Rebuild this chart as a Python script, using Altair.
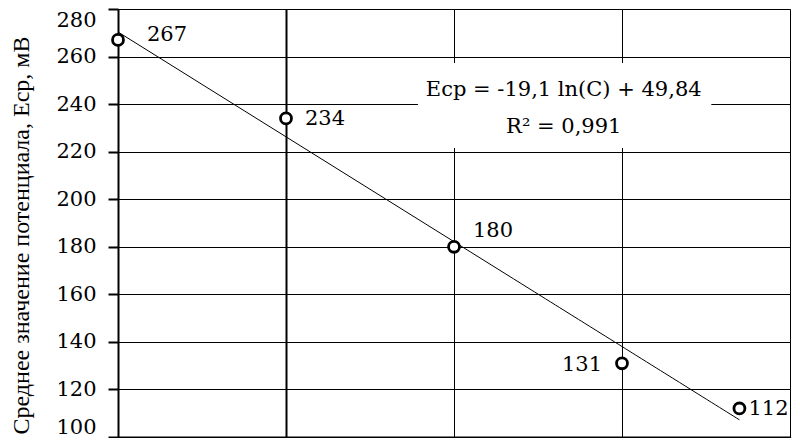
import altair as alt
import pandas as pd

# ---- data ----
conc = [1e-5, 1e-4, 1e-3, 1e-2, 5e-2]          # C (log axis)
potential = [267, 234, 180, 131, 112]           # Ecp, mV
point_labels = ["267", "234", "180", "131", "112"]

y_ticks = [100, 120, 140, 160, 180, 200, 220, 240, 260, 280]
x_ticks = [m * 10.0 ** e for e in range(-5, -1) for m in range(1, 10)] + [1e-1]

y_title = "Среднее значение потенциала, Еср, мВ"
eq_line1 = "Еср = -19,1 ln(C) + 49,84"
eq_line2 = "R² = 0,991"

# annotation anchor (data units)
eq_x = 4.5e-3
eq_y1 = 246.1
eq_y2 = 230.4
box_x = [6.1e-4, 3.4e-2]
box_y = [221.5, 257.3]

W, H = 672, 428
NUM_FONT = "DejaVu Serif"
TXT_FONT = "Liberation Serif"

df = pd.DataFrame({"C": conc, "E": potential, "label": point_labels})

xs = alt.Scale(type="log", domain=[1e-5, 1e-1], nice=False)
ys = alt.Scale(domain=[100, 280], nice=False, zero=False)

major = "abs(log(datum.value)/LN10 - round(log(datum.value)/LN10)) < 0.001"
thick = "abs(log(datum.value)/LN10 + 4) < 0.001"

x_axis = alt.Axis(
    values=x_ticks, labels=False, title=None,
    domainColor="black", domainWidth=2,
    tickColor="black",
    tickSize={"condition": {"test": major, "value": 10}, "value": 6},
    tickWidth=1.5,
    grid=True, gridColor="black",
    gridOpacity={"condition": {"test": major, "value": 1}, "value": 0},
    gridWidth={"condition": {"test": thick, "value": 2}, "value": 1},
)

y_axis = alt.Axis(
    values=y_ticks, title=y_title,
    titleFont=TXT_FONT, titleFontSize=24, titleFontWeight="normal", titleColor="black",
    titleX=-97, titleY=226, titleBaseline="middle", titleAlign="center",
    labelFont=NUM_FONT, labelFontSize=21, labelColor="black", labelPadding=12,
    labelBaseline={
        "condition": [
            {"test": "datum.value == 280", "value": "top"},
            {"test": "datum.value == 100", "value": "bottom"},
        ],
        "value": "middle",
    },
    tickSize=10, tickWidth=2, tickColor="black",
    domainColor="black", domainWidth=2,
    grid=True, gridColor="black", gridWidth=1, gridOpacity=1,
)

base = alt.Chart(df)

trend = base.transform_regression("C", "E", method="log").mark_line(
    color="black", strokeWidth=1
).encode(x=alt.X("C:Q", scale=xs, axis=x_axis), y=alt.Y("E:Q", scale=ys, axis=y_axis))

box = alt.Chart(pd.DataFrame({"x": [box_x[0]], "x2": [box_x[1]], "y": [box_y[0]], "y2": [box_y[1]]})).mark_rect(
    fill="white"
).encode(x=alt.X("x:Q", scale=xs), x2="x2:Q", y=alt.Y("y:Q", scale=ys), y2="y2:Q")

eq = alt.Chart(pd.DataFrame({"x": [eq_x, eq_x], "y": [eq_y1, eq_y2], "t": [eq_line1, eq_line2]})).mark_text(
    font=NUM_FONT, fontSize=21, color="black", align="center", baseline="middle"
).encode(x=alt.X("x:Q", scale=xs), y=alt.Y("y:Q", scale=ys), text="t:N")

points = base.mark_point(
    shape="circle", size=120, strokeWidth=2.8, color="black", fill="white", fillOpacity=1, opacity=1
).encode(x=alt.X("C:Q", scale=xs), y=alt.Y("E:Q", scale=ys))


def lab(value, dx, dy, align="left"):
    return base.transform_filter(alt.datum.E == value).mark_text(
        font=NUM_FONT, fontSize=21, color="black", align=align, baseline="middle", dx=dx, dy=dy
    ).encode(x=alt.X("C:Q", scale=xs), y=alt.Y("E:Q", scale=ys), text="label:N")


chart = alt.layer(
    trend, box, eq, points,
    lab(267, 29, -5), lab(234, 19, 1), lab(180, 19, -16), lab(131, -20, 2, "right"), lab(112, 9, 1),
).properties(
    width=W, height=H,
    autosize=alt.AutoSizeParams(type="none"),
    padding={"left": 110, "top": 1, "right": 2, "bottom": 1},
).configure_view(stroke="black", strokeWidth=2).configure(background="white")

chart.save("out.html", embed_options={"renderer": "svg", "actions": False})
